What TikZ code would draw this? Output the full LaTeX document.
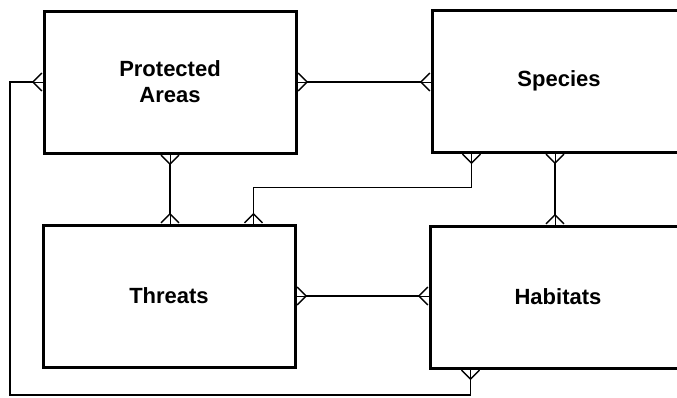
\documentclass[tikz,border=0pt]{standalone}
\usepackage{fontspec}
\setmainfont{Liberation Sans}
\usetikzlibrary{arrows.meta,calc}

\tikzset{
  entity/.style={draw, rectangle, line width=3pt, minimum width=252pt, minimum height=142pt,
    inner sep=0pt, align=center, font=\fontsize{22}{26}\selectfont\bfseries},
  crowfoot/.tip={Straight Barb[reversed, length=9pt, width=18pt]},
  rel/.style={line width=1.3pt, preaction={draw,-}, crowfoot-crowfoot}
}

\begin{document}
\begin{tikzpicture}[x=1pt, y=-1pt]
\useasboundingbox (0,0) rectangle (677,397);
				\node[entity] (PA)at(170, 82) {Protected\\Areas};
				\node[entity, minimum width=254pt] (SP)at(559, 81) {Species};
				\node[entity] (TH)at(169, 296) {Threats};
				\node[entity, minimum width=256pt] (HA)at(558, 297) {Habitats};
				\coordinate (SPa) at ($(SP.south west)+(41,0)$);
				\coordinate (SPb) at ($(SP.south)+(-4,0)$);
				\coordinate (HAa) at ($(HA.south west)+(42,0)$);
				\coordinate (THa) at ($(TH.north west)+(212,0)$);
				\coordinate (bend) at ($(THa)+(0,-36)$);
				\draw[rel] (PA.east) -- (PA.east -| SP.west);
				\draw[rel] (PA.south) -- (PA.south |- TH.north);
				\draw[rel] (TH.east) -- (TH.east -| HA.west);
				\draw[rel] (SPb) -- (SPb |- HA.north);
				\draw[rel] (SPa) |- (bend) -- (THa);
				\draw[rel] (PA.west) -| (10, 395) -| (HAa);
			\end{tikzpicture}
\end{document}
